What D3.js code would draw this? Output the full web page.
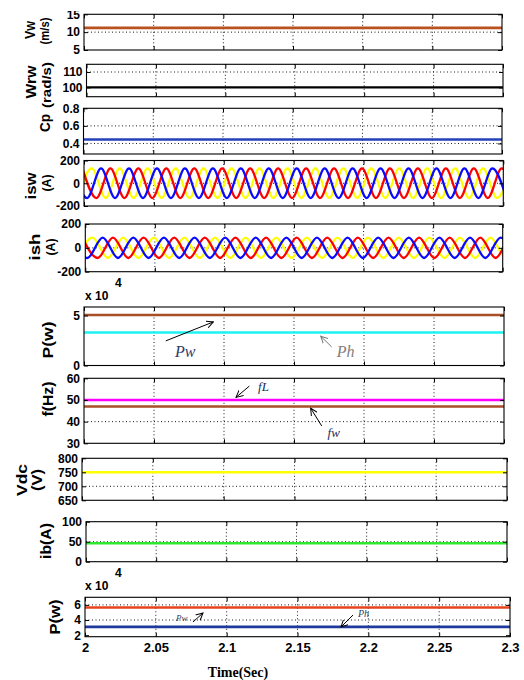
<!DOCTYPE html>
<html>
<head>
<meta charset="utf-8">
<script src="https://cdn.jsdelivr.net/npm/d3@7.9.0/dist/d3.min.js"></script>
<style>
  html, body { margin: 0; padding: 0; background: #fff; }
  svg { display: block; }
</style>
</head>
<body>
<svg id="chart" width="524" height="680"></svg>
<script>
// ---- data ----
const timeDomain = [2, 2.3];
const timeTicks = [2, 2.05, 2.1, 2.15, 2.2, 2.25, 2.3];
const flatTimes = [2, 2.3];

const vwTicks = [5, 10, 15];
const windSpeed = [11.2, 11.2];

const wrwTicks = [100, 110];
const rotorSpeed = [100, 100];

const cpTicks = [0.4, 0.6, 0.8];
const powerCoeff = [0.445, 0.445];

const currentTicks = [-200, 0, 200];

// isw: extremum times of each phase (A)
const iswHigh = 130, iswLow = -130;
const iswYellowPeaks = [2.0055, 2.0255, 2.0455, 2.0655, 2.0855, 2.1055, 2.1255, 2.1455, 2.1655, 2.1855, 2.2055, 2.2255, 2.2455, 2.2655, 2.2855, 2.3055];
const iswYellowTroughs = [1.9955, 2.0155, 2.0355, 2.0555, 2.0755, 2.0955, 2.1155, 2.1355, 2.1555, 2.1755, 2.1955, 2.2155, 2.2355, 2.2555, 2.2755, 2.2955];
const iswBluePeaks = [1.9922, 2.0122, 2.0322, 2.0522, 2.0722, 2.0922, 2.1122, 2.1322, 2.1522, 2.1722, 2.1922, 2.2122, 2.2322, 2.2522, 2.2722, 2.2922];
const iswBlueTroughs = [2.0022, 2.0222, 2.0422, 2.0622, 2.0822, 2.1022, 2.1222, 2.1422, 2.1622, 2.1822, 2.2022, 2.2222, 2.2422, 2.2622, 2.2822, 2.3022];
const iswRedPeaks = [1.9989, 2.0189, 2.0389, 2.0589, 2.0789, 2.0989, 2.1189, 2.1389, 2.1589, 2.1789, 2.1989, 2.2189, 2.2389, 2.2589, 2.2789, 2.2989];
const iswRedTroughs = [2.0089, 2.0289, 2.0489, 2.0689, 2.0889, 2.1089, 2.1289, 2.1489, 2.1689, 2.1889, 2.2089, 2.2289, 2.2489, 2.2689, 2.2889, 2.3089];

// ish: extremum times of each phase (A)
const ishHigh = 85, ishLow = -85;
const ishYellowPeaks = [2.0052, 2.0272, 2.0492, 2.0712, 2.0932, 2.1152, 2.1372, 2.1592, 2.1812, 2.2032, 2.2252, 2.2472, 2.2692, 2.2912, 2.3132];
const ishYellowTroughs = [1.9942, 2.0162, 2.0382, 2.0602, 2.0822, 2.1042, 2.1262, 2.1482, 2.1702, 2.1922, 2.2142, 2.2362, 2.2582, 2.2802, 2.3022];
const ishBluePeaks = [1.9905, 2.0125, 2.0345, 2.0565, 2.0785, 2.1005, 2.1225, 2.1445, 2.1665, 2.1885, 2.2105, 2.2325, 2.2545, 2.2765, 2.2985];
const ishBlueTroughs = [2.0015, 2.0235, 2.0455, 2.0675, 2.0895, 2.1115, 2.1335, 2.1555, 2.1775, 2.1995, 2.2215, 2.2435, 2.2655, 2.2875, 2.3095];
const ishRedPeaks = [1.9979, 2.0199, 2.0419, 2.0639, 2.0859, 2.1079, 2.1299, 2.1519, 2.1739, 2.1959, 2.2179, 2.2399, 2.2619, 2.2839, 2.3059];
const ishRedTroughs = [2.0089, 2.0309, 2.0529, 2.0749, 2.0969, 2.1189, 2.1409, 2.1629, 2.1849, 2.2069, 2.2289, 2.2509, 2.2729, 2.2949, 2.3169];

const powerTicks = [0, 5];
const windPower = [5.05, 5.05];   // x 10^4
const hydroPower = [3.3, 3.3];

const freqTicks = [30, 40, 50, 60];
const loadFreq = [50, 50];
const windFreq = [47, 47];

const vdcTicks = [650, 700, 750, 800];
const dcVoltage = [750, 750];

const ibTicks = [0, 50, 100];
const batteryCurrent = [46, 46];

const power2Ticks = [2, 4, 6];
const powerRed = [5.65, 5.65];    // x 10^4
const powerBlue = [3.1, 3.1];

// ---- drawing ----
const svg = d3.select('#chart');
const defs = svg.append('defs');
defs.append('clipPath').attr('id', 'crop')
  .append('rect').attr('x', 0).attr('y', 11).attr('width', 524).attr('height', 669);

['#000', '#777'].forEach((c, i) => {
  defs.append('marker').attr('id', 'arrow' + i)
    .attr('viewBox', '0 0 8 8').attr('refX', 7).attr('refY', 4)
    .attr('markerWidth', 8).attr('markerHeight', 8)
    .attr('markerUnits', 'userSpaceOnUse').attr('orient', 'auto')
    .append('path').attr('d', 'M0,0.5 L7,4 L0,7.5')
    .attr('fill', 'none').attr('stroke', c).attr('stroke-width', 1);
});

const root = svg.append('g').attr('clip-path', 'url(#crop)');
const sans = '"Liberation Sans", Arial, Helvetica, sans-serif';
const serif = '"Liberation Serif", "Times New Roman", serif';
const plain = d => String(d);
let clipCount = 0;

function panel(box, yDomain, yTicks, showX) {
  const x = d3.scaleLinear().domain(timeDomain).range([box.l, box.r]);
  const y = d3.scaleLinear().domain(yDomain).range([box.b, box.t]);
  const g = root.append('g');
  const id = 'pc' + (clipCount++);
  defs.append('clipPath').attr('id', id).append('rect')
    .attr('x', box.l).attr('y', box.t).attr('width', box.r - box.l).attr('height', box.b - box.t);

  // dotted grid
  g.selectAll('.vg').data(timeTicks.slice(1, -1)).join('line')
    .attr('x1', d => x(d)).attr('x2', d => x(d)).attr('y1', box.t).attr('y2', box.b)
    .attr('stroke', '#000').attr('stroke-width', 0.9).attr('stroke-dasharray', '1,2.5');
  g.selectAll('.hg').data(yTicks.filter(d => y(d) > box.t + 2 && y(d) < box.b - 2)).join('line')
    .attr('x1', box.l).attr('x2', box.r).attr('y1', d => y(d)).attr('y2', d => y(d))
    .attr('stroke', '#000').attr('stroke-width', 0.9).attr('stroke-dasharray', '1,2.5');

  const plot = g.append('g').attr('clip-path', `url(#${id})`);
  const over = g.append('g');

  const styleAxis = (a, size) => {
    a.select('.domain').remove();
    a.selectAll('line').attr('stroke', '#000').attr('stroke-width', 1);
    a.selectAll('text').attr('font-family', sans).attr('font-weight', 'bold')
      .attr('font-size', size).attr('fill', '#000');
  };
  over.append('g').attr('transform', `translate(${box.l},0)`)
    .call(d3.axisLeft(y).tickValues(yTicks).tickSize(-4).tickPadding(4).tickFormat(plain))
    .call(a => styleAxis(a, 12));
  over.append('g').attr('transform', `translate(${box.r},0)`)
    .call(d3.axisRight(y).tickValues(yTicks).tickSize(-4).tickFormat(''))
    .call(a => styleAxis(a, 12));
  over.append('g').attr('transform', `translate(0,${box.t})`)
    .call(d3.axisTop(x).tickValues(timeTicks).tickSize(-4).tickFormat(''))
    .call(a => styleAxis(a, 12));
  over.append('g').attr('transform', `translate(0,${box.b})`)
    .call(d3.axisBottom(x).tickValues(timeTicks).tickSize(-4).tickPadding(6)
      .tickFormat(showX ? plain : ''))
    .call(a => styleAxis(a, 13));
  over.append('rect')
    .attr('x', box.l).attr('y', box.t).attr('width', box.r - box.l).attr('height', box.b - box.t)
    .attr('fill', 'none').attr('stroke', '#000').attr('stroke-width', 1.1);

  return { x, y, plot, g };
}

function flat(p, values, color, w) {
  const line = d3.line().x(d => p.x(d[0])).y(d => p.y(d[1]));
  p.plot.append('path').datum(flatTimes.map((t, i) => [t, values[i]]))
    .attr('d', line).attr('fill', 'none').attr('stroke', color).attr('stroke-width', w || 2.6);
}

function wave(p, peaks, troughs, hi, lo, color) {
  const pts = peaks.map(t => [t, hi]).concat(troughs.map(t => [t, lo]))
    .sort((a, b) => a[0] - b[0]);
  const line = d3.line().x(d => p.x(d[0])).y(d => p.y(d[1])).curve(d3.curveMonotoneX);
  p.plot.append('path').datum(pts)
    .attr('d', line).attr('fill', 'none').attr('stroke', color).attr('stroke-width', 2.3);
}

function yLabel(txt, cx, cy, len, size) {
  root.append('text')
    .attr('transform', `translate(${cx},${cy}) rotate(-90)`)
    .attr('text-anchor', 'middle').attr('dy', '0.35em')
    .attr('font-family', sans).attr('font-weight', 'bold').attr('font-size', size || 14)
    .attr('textLength', len).attr('lengthAdjust', 'spacingAndGlyphs')
    .text(txt);
}

function note(p, txt, t, v, size, color) {
  p.g.append('text').attr('x', p.x(t)).attr('y', p.y(v))
    .attr('font-family', serif).attr('font-style', 'italic').attr('font-size', size)
    .attr('fill', color).text(txt);
}

function arrow(p, from, to, grey) {
  p.g.append('line')
    .attr('x1', p.x(from[0])).attr('y1', p.y(from[1]))
    .attr('x2', p.x(to[0])).attr('y2', p.y(to[1]))
    .attr('stroke', grey ? '#777' : '#000').attr('stroke-width', 1)
    .attr('marker-end', `url(#arrow${grey ? 1 : 0})`);
}

function exponent(baseY) {
  root.append('text').attr('x', 85).attr('y', baseY)
    .attr('font-family', sans).attr('font-weight', 'bold').attr('font-size', 12).text('x 10');
  root.append('text').attr('x', 115).attr('y', baseY - 13)
    .attr('font-family', sans).attr('font-weight', 'bold').attr('font-size', 12).text('4');
}

// Vw
const p1 = panel({ l: 84, r: 502, t: 14.3, b: 50 }, [5, 15], vwTicks);
flat(p1, windSpeed, '#b9521f');
yLabel('Vw', 30, 30, 18, 15);
yLabel('(m/s)', 45, 31, 27, 12);

// Wrw
const p2 = panel({ l: 86.5, r: 503, t: 64.3, b: 96.7 }, [94, 115], wrwTicks);
flat(p2, rotorSpeed, '#000', 2.2);
yLabel('Wrw', 31, 82, 33);
yLabel('(rad/s)', 47, 85, 46, 12);

// Cp
const p3 = panel({ l: 83.5, r: 502, t: 108.3, b: 154 }, [0.28, 0.8], cpTicks);
flat(p3, powerCoeff, '#2341b8');
yLabel('Cp', 45, 123, 18);

// isw
const p4 = panel({ l: 84, r: 503.3, t: 160.5, b: 206 }, [-200, 200], currentTicks);
wave(p4, iswYellowPeaks, iswYellowTroughs, iswHigh, iswLow, '#ffff00');
wave(p4, iswRedPeaks, iswRedTroughs, iswHigh, iswLow, '#ff0000');
wave(p4, iswBluePeaks, iswBlueTroughs, iswHigh, iswLow, '#0a0aff');
yLabel('isw', 31, 186, 27, 15);
yLabel('(A)', 46, 183, 17, 13);

// ish
const p5 = panel({ l: 85.3, r: 502.7, t: 224, b: 271.7 }, [-200, 200], currentTicks);
wave(p5, ishYellowPeaks, ishYellowTroughs, ishHigh, ishLow, '#ffff00');
wave(p5, ishRedPeaks, ishRedTroughs, ishHigh, ishLow, '#ff0000');
wave(p5, ishBluePeaks, ishBlueTroughs, ishHigh, ishLow, '#0a0aff');
yLabel('ish', 35, 247, 27, 15);
yLabel('(A)', 50, 247, 17, 13);

exponent(300);

// P(w)
const p6 = panel({ l: 84, r: 504, t: 307, b: 365.5 }, [0, 5.85], powerTicks);
flat(p6, windPower, '#a84f28');
flat(p6, hydroPower, '#1ef2f2');
yLabel('P(w)', 48, 340, 37);
note(p6, 'Pw', 2.065, 0.83, 16, '#2b3d6b');
arrow(p6, [2.0584, 2.46], [2.0924, 4.36]);
note(p6, 'Ph', 2.1805, 0.83, 16, '#808080');
arrow(p6, [2.1769, 1.86], [2.1691, 2.93], true);

// f(Hz)
const p7 = panel({ l: 84, r: 504, t: 378.3, b: 443.3 }, [30, 60], freqTicks);
flat(p7, windFreq, '#a84f28');
flat(p7, loadFreq, '#ff00ff');
yLabel('f(Hz)', 48, 399, 35);
note(p7, 'fL', 2.1243, 54.1, 13, '#1d2d5c');
arrow(p7, [2.1181, 56.4], [2.1086, 51.2]);
note(p7, 'fw', 2.174, 32.9, 13, '#1d2d5c');
arrow(p7, [2.1698, 38.0], [2.1619, 46.2]);

// Vdc
const p8 = panel({ l: 82, r: 507, t: 458.3, b: 500.3 }, [650, 800], vdcTicks);
flat(p8, dcVoltage, '#ffff00');
yLabel('Vdc', 22, 480, 32);
yLabel('(V)', 37, 480, 22);

// ib(A)
const p9 = panel({ l: 86, r: 507, t: 521.7, b: 561.7 }, [0, 100], ibTicks);
flat(p9, batteryCurrent, '#2ee82e');
yLabel('ib(A)', 46, 541, 36);

exponent(590);

// P(w) bottom
const p10 = panel({ l: 85, r: 510, t: 597.3, b: 636.7 }, [1.8, 7], power2Ticks, true);
flat(p10, powerRed, '#e8431d');
flat(p10, powerBlue, '#1f3a9c');
yLabel('P(w)', 55, 617, 35);
note(p10, 'Pw', 2.0642, 3.87, 9, '#2b3d6b');
arrow(p10, [2.0762, 3.74], [2.0833, 4.93]);
note(p10, 'Ph', 2.1927, 4.4, 10, '#2b3d6b');
arrow(p10, [2.1892, 4.66], [2.1807, 3.08]);

root.append('text').attr('x', 238).attr('y', 677).attr('text-anchor', 'middle')
  .attr('font-family', serif).attr('font-weight', 'bold').attr('font-size', 14)
  .text('Time(Sec)');
</script>
</body>
</html>
